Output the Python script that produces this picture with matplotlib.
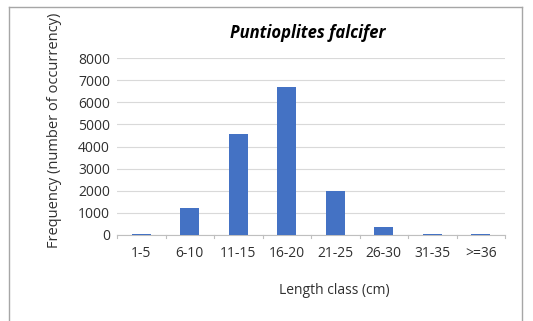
import matplotlib.pyplot as plt
from matplotlib.lines import Line2D

# =====================================
# Data
# =====================================

classes = ["1-5", "6-10", "11-15", "16-20", "21-25", "26-30", "31-35", ">=36"]
frequency = [30, 1200, 4570, 6680, 2000, 350, 60, 30]
y_ticks = [0, 1000, 2000, 3000, 4000, 5000, 6000, 7000, 8000]

plt.rcParams["font.family"] = ["Open Sans", "DejaVu Sans"]

W, H = 533, 321
fig = plt.figure(figsize=(W / 100, H / 100), dpi=100)

# plot area in pixels: left 117, right 505, top 58, bottom 235
ax = fig.add_axes([117 / W, 1 - 235 / H, (505 - 117) / W, (235 - 58) / H])

x = list(range(len(classes)))
ax.bar(x, frequency, width=0.4, color="#4472C4", zorder=3)

ax.set_xlim(-0.5, len(classes) - 0.5)
ax.set_ylim(0, 8000)
ax.set_yticks(y_ticks)
ax.set_yticklabels([str(v) for v in y_ticks], fontsize=10, color="#303030")
ax.set_xticks(x)
ax.set_xticklabels(classes, fontsize=10, color="#303030")
ax.tick_params(axis="both", length=0, pad=5)
ax.tick_params(axis="x", pad=8)

# category separator ticks on x axis
for b in range(len(classes) + 1):
    ax.plot([b - 0.5, b - 0.5], [0, -130], color="#bfbfbf", lw=0.8,
            clip_on=False, zorder=2)

ax.grid(axis="y", color="#d9d9d9", lw=0.8, zorder=0)
for side in ["top", "right", "left"]:
    ax.spines[side].set_visible(False)
ax.spines["bottom"].set_color("#bfbfbf")
ax.spines["bottom"].set_linewidth(0.8)

fig.text(308 / W, 1 - 33 / H, "Puntioplites falcifer", ha="center",
         va="center", fontsize=12, fontweight="bold", style="italic")
fig.text(55 / W, 1 - 130 / H, "Frequency (number of occurrency)",
         rotation=90, ha="center", va="center", fontsize=10.5, color="#303030")
fig.text(334 / W, 1 - 290 / H, "Length class (cm)", ha="center",
         va="center", fontsize=10, color="#303030")

# outer chart border
border = dict(color="#a6a6a6", lw=1.0, transform=fig.transFigure)
fig.add_artist(Line2D([9 / W, 522 / W], [1 - 7 / H, 1 - 7 / H], **border))
fig.add_artist(Line2D([9 / W, 9 / W], [1 - 7 / H, 0], **border))
fig.add_artist(Line2D([522 / W, 522 / W], [1 - 7 / H, 0], **border))

fig.savefig("out.png", dpi=100)
